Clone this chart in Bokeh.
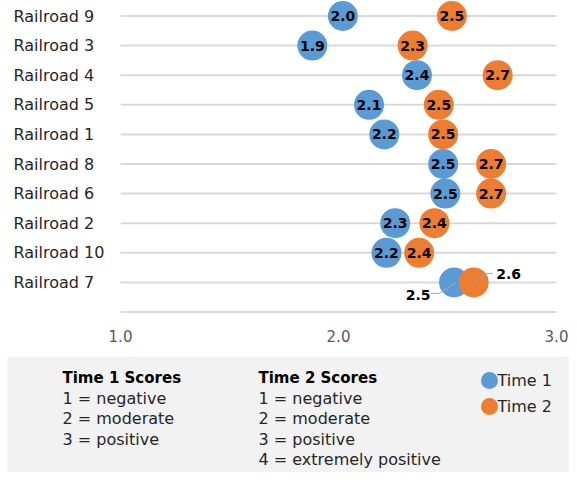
from bokeh.plotting import figure
from bokeh.models import Range1d, ColumnDataSource
from bokeh.core.properties import value
from bokeh.embed import file_html
from bokeh.resources import INLINE

# ---------------- data ----------------
categories = ["Railroad 9", "Railroad 3", "Railroad 4", "Railroad 5", "Railroad 1",
              "Railroad 8", "Railroad 6", "Railroad 2", "Railroad 10", "Railroad 7"]
time1 = [2.02, 1.88, 2.36, 2.14, 2.21, 2.48, 2.49, 2.26, 2.22, 2.53]
time2 = [2.52, 2.34, 2.73, 2.46, 2.48, 2.70, 2.70, 2.44, 2.37, 2.62]
x_ticks = [1.0, 2.0, 3.0]
x_tick_labels = ["1.0", "2.0", "3.0"]
callout_rows = ["Railroad 7"]
series_names = ["Time 1", "Time 2"]
t1_title = "Time 1 Scores"
t1_lines = ["1 = negative", "2 = moderate", "3 = positive"]
t2_title = "Time 2 Scores"
t2_lines = ["1 = negative", "2 = moderate", "3 = positive", "4 = extremely positive"]

# ---------------- styles / layout ----------------
BLUE = "#5B9BD5"
ORANGE = "#ED7D31"
GRID = "#D9D9D9"
FONT = value("DejaVu Sans")
W, H = 569, 472
SX = 218.0           # px per x unit
SY = 29.6            # px per row
X_ONE_PX = 120       # canvas x of value 1.0
Y_ZERO_PX = 311.5    # canvas y of the axis line


def px_x(cx):
    return 1.0 + (cx - X_ONE_PX) / SX


def px_y(cy):
    return (Y_ZERO_PX - cy) / SY


x0, x1 = px_x(0), px_x(W)
y0, y1 = px_y(H), px_y(0)

p = figure(width=W, height=H, output_backend="svg", toolbar_location=None,
           x_range=Range1d(x0, x1), y_range=Range1d(y0, y1),
           x_axis_type=None, y_axis_type=None, min_border=0,
           min_border_left=0, min_border_right=0, min_border_top=0, min_border_bottom=0)
p.outline_line_color = None
p.background_fill_color = "white"
p.border_fill_color = "white"

n = len(categories)
rows = [n - i for i in range(n)]

# grid lines and axis line
gl_y = rows + [0]
p.segment(x0=[x_ticks[0]] * len(gl_y), x1=[x_ticks[-1]] * len(gl_y), y0=gl_y, y1=gl_y,
          line_color=GRID, line_width=2)

# category labels
p.text(x=[px_x(13)] * n, y=rows, text=categories, text_align="left", text_baseline="middle",
       text_font=FONT, text_font_size="16px", text_color="#262626")

# x tick labels
p.text(x=x_ticks, y=[px_y(335)] * len(x_ticks), text=x_tick_labels, text_align="center",
       text_baseline="middle", text_font=FONT, text_font_size="15px", text_color="#595959")

# points
src = ColumnDataSource(dict(y=rows, t1=time1, t2=time2, cat=categories))
p.scatter(x="t1", y="y", source=src, size=30, fill_color=BLUE, line_color=None)
p.scatter(x="t2", y="y", source=src, size=30, fill_color=ORANGE, line_color=None)

# in-circle labels
inside = [i for i, c in enumerate(categories) if c not in callout_rows]
lx = [time1[i] for i in inside] + [time2[i] for i in inside]
ly = [rows[i] for i in inside] * 2
lt = [f"{time1[i]:.1f}" for i in inside] + [f"{time2[i]:.1f}" for i in inside]
p.text(x=lx, y=ly, text=lt, text_align="center", text_baseline="middle",
       text_font=FONT, text_font_style="bold", text_font_size="14px", text_color="#000000")

# callouts
for c in callout_rows:
    i = categories.index(c)
    r = rows[i]
    v = time1[i]
    pts = [(-23, 11), (-15, 11), (2, 0)]
    p.line(x=[v + dx / SX for dx, dy in pts], y=[r - dy / SY for dx, dy in pts],
           line_color="#A6A6A6", line_width=1)
    p.text(x=[v - 36 / SX], y=[r - 13 / SY], text=[f"{v:.1f}"], text_align="center",
           text_baseline="middle", text_font=FONT, text_font_style="bold",
           text_font_size="14px", text_color="#000000")
    v = time2[i]
    pts = [(1, 0), (13, -9), (19, -9)]
    p.line(x=[v + dx / SX for dx, dy in pts], y=[r - dy / SY for dx, dy in pts],
           line_color="#A6A6A6", line_width=1)
    p.text(x=[v + 35 / SX], y=[r + 8 / SY], text=[f"{v:.1f}"], text_align="center",
           text_baseline="middle", text_font=FONT, text_font_style="bold",
           text_font_size="14px", text_color="#000000")

# legend panel
p.quad(left=[px_x(7)], right=[x1], bottom=[y0], top=[px_y(356)], fill_color="#F2F2F2", line_color=None)

LINE_Y0 = 377
LINE_STEP = 20.5
p.text(x=[px_x(62)], y=[px_y(LINE_Y0)], text=[t1_title], text_align="left", text_baseline="middle",
       text_font=FONT, text_font_style="bold", text_font_size="15px", text_color="#000000")
p.text(x=[px_x(62)] * len(t1_lines), y=[px_y(LINE_Y0 + LINE_STEP * (k + 1)) for k in range(len(t1_lines))],
       text=t1_lines, text_align="left", text_baseline="middle",
       text_font=FONT, text_font_size="16px", text_color="#262626")
p.text(x=[px_x(258)], y=[px_y(LINE_Y0)], text=[t2_title], text_align="left", text_baseline="middle",
       text_font=FONT, text_font_style="bold", text_font_size="15px", text_color="#000000")
p.text(x=[px_x(258)] * len(t2_lines), y=[px_y(LINE_Y0 + LINE_STEP * (k + 1)) for k in range(len(t2_lines))],
       text=t2_lines, text_align="left", text_baseline="middle",
       text_font=FONT, text_font_size="16px", text_color="#262626")

leg_y = [px_y(380), px_y(406)]
p.scatter(x=[px_x(489)] * 2, y=leg_y, size=17, fill_color=[BLUE, ORANGE], line_color=None)
p.text(x=[px_x(497)] * 2, y=leg_y, text=series_names, text_align="left", text_baseline="middle",
       text_font=FONT, text_font_size="16px", text_color="#262626")

open("out.html", "w").write(file_html(p, INLINE))
